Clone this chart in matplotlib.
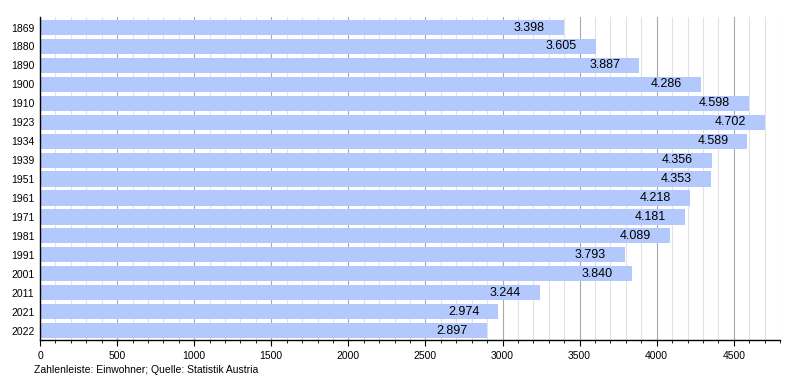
import matplotlib
matplotlib.use("Agg")
import matplotlib.pyplot as plt
from matplotlib.ticker import MultipleLocator

years = ["1869", "1880", "1890", "1900", "1910", "1923", "1934", "1939", "1951",
         "1961", "1971", "1981", "1991", "2001", "2011", "2021", "2022"]
values = [3398, 3605, 3887, 4286, 4598, 4702, 4589, 4356, 4353,
          4218, 4181, 4089, 3793, 3840, 3244, 2974, 2897]
labels = ["3.398", "3.605", "3.887", "4.286", "4.598", "4.702", "4.589", "4.356", "4.353",
          "4.218", "4.181", "4.089", "3.793", "3.840", "3.244", "2.974", "2.897"]

plt.rcParams['font.family'] = ['Liberation Sans', 'DejaVu Sans']

fig = plt.figure(figsize=(8, 3.8), dpi=100)
ax = fig.add_axes([0.05, 0.105, 0.925, 0.85])

ypos = list(range(len(years)))
ax.barh(ypos, values, height=0.8, color='#b3c9fd', zorder=2)

# value labels inside the bar ends
for y, v, lab in zip(ypos, values, labels):
    ax.annotate(lab, xy=(v, y), xytext=(-19, 0), textcoords='offset pixels',
                ha='right', va='center', fontsize=9, color='black', zorder=3)

ax.set_xlim(0, 4800)
ax.set_ylim(len(years) - 0.5, -0.55)
ax.set_yticks(ypos)
ax.set_yticklabels(years, fontsize=7.5)
ax.tick_params(axis='y', length=0, pad=4)

ax.xaxis.set_major_locator(MultipleLocator(500))
ax.xaxis.set_minor_locator(MultipleLocator(100))
ax.tick_params(axis='x', which='major', labelsize=7.5, length=4, width=0.8, direction='out')
ax.tick_params(axis='x', which='minor', length=2.5, width=0.6, direction='out')

ax.grid(axis='x', which='major', color='#a8a8a8', linewidth=0.8, zorder=0)
ax.grid(axis='x', which='minor', color='#e2e2e2', linewidth=0.8, zorder=0)
ax.set_axisbelow(True)

for s in ['top', 'right']:
    ax.spines[s].set_visible(False)
ax.spines['left'].set_linewidth(1)
ax.spines['bottom'].set_linewidth(1)

fig.text(0.042, 0.018, "Zahlenleiste: Einwohner; Quelle: Statistik Austria", fontsize=7.5)

fig.savefig("out.png", dpi=100)
